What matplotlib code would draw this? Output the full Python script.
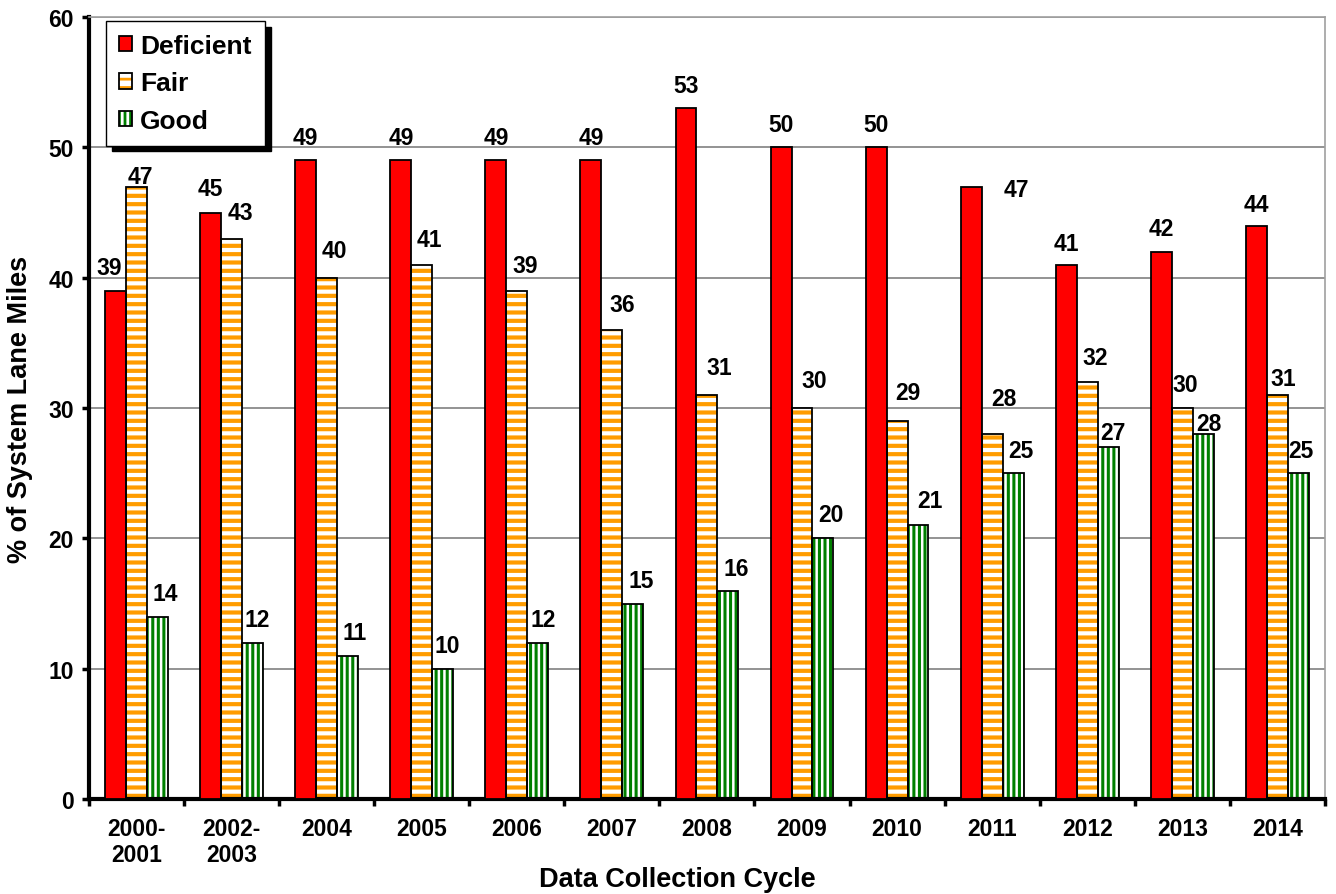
import matplotlib
matplotlib.use("Agg")
import matplotlib.pyplot as plt
from matplotlib.patches import Patch
from matplotlib.ticker import MultipleLocator, FixedLocator

# data
cycles = ["2000-\n2001", "2002-\n2003", "2004", "2005", "2006", "2007", "2008",
          "2009", "2010", "2011", "2012", "2013", "2014"]
deficient = [39, 45, 49, 49, 49, 49, 53, 50, 50, 47, 41, 42, 44]
fair      = [47, 43, 40, 41, 39, 36, 31, 30, 29, 28, 32, 30, 31]
good      = [14, 12, 11, 10, 12, 15, 16, 20, 21, 25, 27, 28, 25]

# label nudges in pixels (dx, dy above bar top)
def_nudge  = [(-6, 17), (0, 18), (0, 16), (0, 16), (0, 16), (0, 16), (0, 16),
              (0, 16), (0, 16), (45, -9), (0, 15), (0, 17), (0, 15)]
fair_nudge = [(4, 4), (9, 20), (8, 21), (8, 19), (8, 19), (10, 19), (12, 21),
              (12, 21), (11, 22), (12, 29), (8, 18), (3, 17), (6, 10)]
good_nudge = [(8, 17), (5, 17), (7, 17), (5, 17), (5, 17), (8, 17), (8, 16),
              (8, 17), (12, 18), (8, 16), (5, 8), (6, 4), (3, 16)]

RED = "#FF0000"
ORANGE = "#FF9C00"
GREEN = "#008000"
W = 0.22
FS = 16.5

plt.rcParams['font.family'] = ['Liberation Sans', 'DejaVu Sans']
plt.rcParams['font.weight'] = 'bold'

fig = plt.figure(figsize=(13.36, 8.95), dpi=100)
ax = fig.add_axes([0.0666, 0.1061, 0.9251, 0.8737])

x = list(range(len(cycles)))


def striped_bars(xs, vals, color, hatch, hlw):
    plt.rcParams['hatch.linewidth'] = hlw
    bars = ax.bar(xs, vals, W, color="white", edgecolor=color, hatch=hatch,
                  linewidth=0, zorder=2)
    for b in bars:
        if hasattr(b, "set_hatch_linewidth"):
            b.set_hatch_linewidth(hlw)
    ax.bar(xs, vals, W, fill=False, edgecolor="black", linewidth=1.3, zorder=3)
    return bars


ax.bar([i - W for i in x], deficient, W, color=RED, edgecolor="black",
       linewidth=1.3, zorder=3)
striped_bars(x, fair, ORANGE, "--", 3.0)
striped_bars([i + W for i in x], good, GREEN, "|||", 2.2)


def put_labels(xs, vals, nudges):
    for xi, v, (dx, dy) in zip(xs, vals, nudges):
        ax.annotate(str(v), (xi, v), xytext=(dx, dy), textcoords="offset pixels",
                    ha="center", va="baseline", fontsize=FS, fontweight="bold",
                    zorder=5)


put_labels([i - W for i in x], deficient, def_nudge)
put_labels(x, fair, fair_nudge)
put_labels([i + W for i in x], good, good_nudge)

ax.set_xlim(-0.5, len(cycles) - 0.5)
ax.set_ylim(0, 60)
ax.yaxis.set_major_locator(MultipleLocator(10))
ax.set_xticks(x)
ax.set_xticklabels(cycles, linespacing=1.15)
ax.xaxis.set_minor_locator(FixedLocator([i - 0.5 for i in range(len(cycles) + 1)]))
ax.tick_params(axis="x", which="major", length=0, pad=13, labelsize=FS)
ax.tick_params(axis="x", which="minor", length=5, width=2.5, direction="out")
ax.tick_params(axis="y", which="major", length=5, width=2.5, direction="out",
               pad=6, labelsize=FS)

ax.grid(axis="y", color="#808080", linewidth=1.2, zorder=0)
ax.set_axisbelow(True)
for s in ("left", "bottom"):
    ax.spines[s].set_linewidth(3)
    ax.spines[s].set_color("black")
for s in ("top", "right"):
    ax.spines[s].set_linewidth(1.2)
    ax.spines[s].set_color("#A0A0A0")

ax.set_xlabel("Data Collection Cycle", fontsize=19.5, fontweight="bold")
ax.xaxis.set_label_coords(0.476, -0.085)
ax.set_ylabel("% of System Lane Miles", fontsize=19.5, fontweight="bold")
ax.yaxis.set_label_coords(-0.045, 0.5)

# legend with hatched swatches and black outlines
plt.rcParams['hatch.linewidth'] = 2.0
h_def = Patch(facecolor=RED, edgecolor="black", linewidth=1.3)
h_fair = (Patch(facecolor="white", edgecolor=ORANGE, hatch="--", linewidth=0),
          Patch(fill=False, edgecolor="black", linewidth=1.3))
h_good = (Patch(facecolor="white", edgecolor=GREEN, hatch="|||", linewidth=0),
          Patch(fill=False, edgecolor="black", linewidth=1.3))
leg = ax.legend([h_def, h_fair, h_good], ["Deficient", "Fair", "Good"],
                loc="upper left", bbox_to_anchor=(0.0138, 0.995), borderaxespad=0,
                fontsize=19, handlelength=0.5, handleheight=0.5,
                handletextpad=0.3, labelspacing=0.5, borderpad=0.5,
                fancybox=False, edgecolor="black", framealpha=1,
                shadow={"ox": 4, "oy": -4, "color": "black", "alpha": 1})
leg.get_frame().set_linewidth(1.0)
leg.set_zorder(6)

fig.savefig("out.png", dpi=100)
